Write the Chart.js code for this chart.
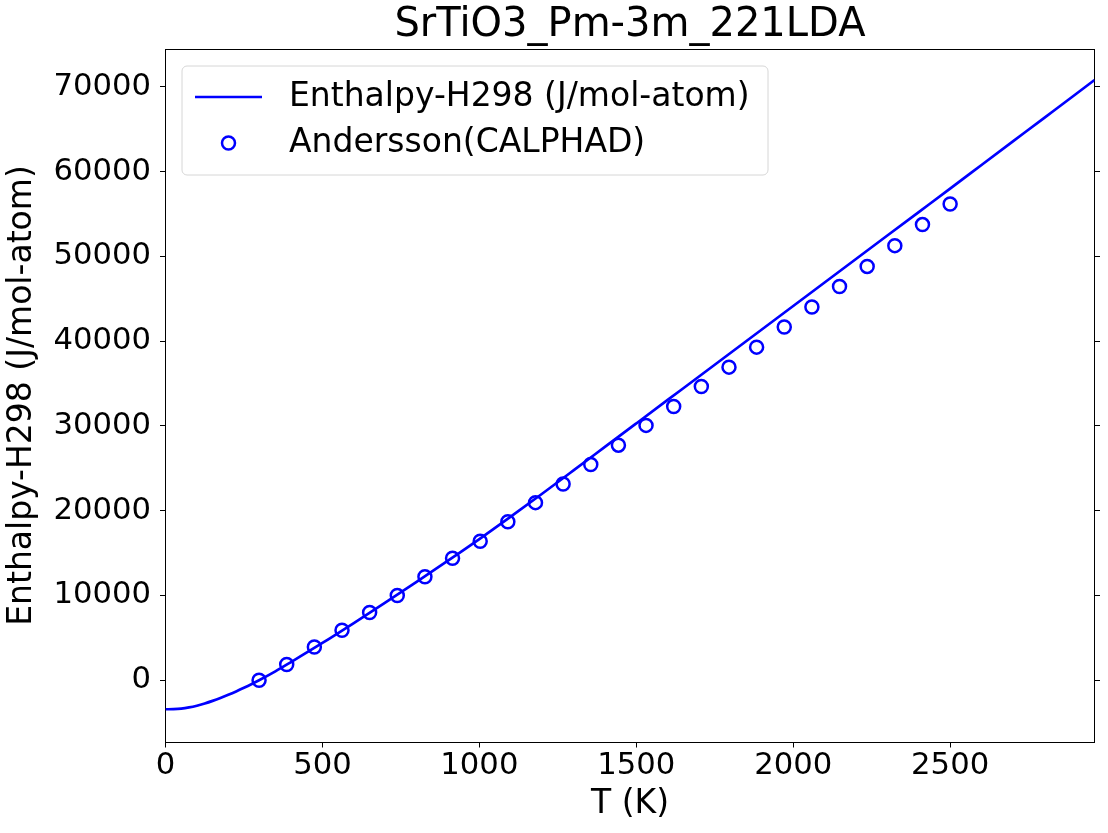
<!DOCTYPE html>
<html>
<head>
<meta charset="utf-8">
<script src="https://cdn.jsdelivr.net/npm/chart.js@4.4.0/dist/chart.umd.min.js"></script>
<style>
html,body{margin:0;padding:0;background:#ffffff;}
#wrap{width:1108px;height:833px;}
</style>
</head>
<body>
<div id="wrap"><canvas id="c" width="1108" height="833"></canvas></div>
<script>
const chartTitle = 'SrTiO3_Pm-3m_221LDA';
const xLabel = 'T (K)';
const yLabel = 'Enthalpy-H298 (J/mol-atom)';
const lineLabel = 'Enthalpy-H298 (J/mol-atom)';
const pointLabel = 'Andersson(CALPHAD)';

// Computed curve
const lineT = [0, 25, 50, 75, 100, 125, 150, 175, 200, 225, 250, 275, 298.15, 350, 400, 500, 600, 700, 800, 900, 1000,
  1100, 1200, 1300, 1400, 1500, 1600, 1700, 1800, 1900, 2000, 2100, 2200, 2300, 2400, 2500,
  2600, 2700, 2800, 2900, 2960];
const lineH = [-3420, -3405, -3345, -3205, -3000, -2735, -2430, -2090, -1715, -1315, -890, -440, 0, 1050, 2150, 4400, 6750, 9150, 11600, 14100, 16650,
  19300, 22000, 24750, 27520, 30290, 33060, 35830, 38600, 41370, 44140, 46910, 49680, 52450, 55220, 57990,
  60770, 63550, 66330, 69110, 70800];

// CALPHAD points
const pointT = [298.15, 386.2, 474.3, 562.4, 650.4, 738.5, 826.6, 914.6, 1002.7, 1090.8, 1178.9, 1266.9, 1355.0,
  1443.1, 1531.1, 1619.2, 1707.3, 1795.4, 1883.4, 1971.5, 2059.6, 2147.6, 2235.7, 2323.8, 2411.9, 2500];
const pointH = [0, 1850, 3930, 5900, 8000, 10000, 12200, 14400, 16400, 18700, 20950, 23150, 25450,
  27730, 30060, 32280, 34640, 36930, 39290, 41660, 44020, 46450, 48810, 51260, 53740, 56180];

// Tick values
const xTickValues = [0, 500, 1000, 1500, 2000, 2500];
const yTickValues = [0, 10000, 20000, 30000, 40000, 50000, 60000, 70000];

const xMin = 0, xMax = 2960;
const yMin = -7280, yMax = 74450;

const FONT = 'DejaVu Sans';
const BLUE = '#0000ff';

const legendPlugin = {
  id: 'innerLegend',
  afterDraw(chart) {
    const ctx = chart.ctx;
    const ds = chart.data.datasets;
    ctx.save();
    ctx.beginPath();
    ctx.roundRect(182, 66, 586, 109, 5);
    ctx.fillStyle = 'rgba(255,255,255,0.8)';
    ctx.fill();
    ctx.strokeStyle = '#d6d6d6';
    ctx.lineWidth = 1;
    ctx.stroke();
    ctx.beginPath();
    ctx.moveTo(195, 97);
    ctx.lineTo(262, 97);
    ctx.strokeStyle = BLUE;
    ctx.lineWidth = 2.7;
    ctx.stroke();
    ctx.beginPath();
    ctx.arc(228.5, 143, 6.5, 0, Math.PI * 2);
    ctx.lineWidth = 2.5;
    ctx.stroke();
    ctx.fillStyle = '#000';
    ctx.font = '33px "' + FONT + '"';
    ctx.textBaseline = 'middle';
    ctx.textAlign = 'left';
    ctx.fillText(ds[0].label, 289, 97);
    ctx.fillText(ds[1].label, 289, 143);
    ctx.restore();
  }
};

const tickFont = {family: FONT, size: 30.7};
const setTicks = vals => (s => { s.ticks = vals.map(v => ({value: v})); });

new Chart(document.getElementById('c'), {
  type: 'scatter',
  data: {
    datasets: [
      {
        label: lineLabel,
        data: lineT.map((t, i) => ({x: t, y: lineH[i]})),
        showLine: true,
        borderColor: BLUE,
        backgroundColor: BLUE,
        borderWidth: 2.7,
        pointRadius: 0,
        pointHoverRadius: 0,
        fill: false,
        cubicInterpolationMode: 'monotone',
        xAxisID: 'x', yAxisID: 'y'
      },
      {
        label: pointLabel,
        data: pointT.map((t, i) => ({x: t, y: pointH[i]})),
        showLine: false,
        pointStyle: 'circle',
        pointRadius: 6.5,
        pointHoverRadius: 6.5,
        borderWidth: 2.5,
        pointBorderWidth: 2.5,
        borderColor: BLUE,
        backgroundColor: 'rgba(0,0,0,0)',
        xAxisID: 'x', yAxisID: 'y'
      }
    ]
  },
  options: {
    responsive: false,
    animation: false,
    devicePixelRatio: 1,
    layout: {padding: 0},
    events: [],
    plugins: {
      legend: {display: false},
      title: {display: false},
      tooltip: {enabled: false}
    },
    scales: {
      x: {
        type: 'linear', position: 'bottom', min: xMin, max: xMax,
        afterBuildTicks: setTicks(xTickValues),
        afterFit(s) { s.height = 91; },
        ticks: {font: tickFont, color: '#000', padding: 0, maxRotation: 0, autoSkip: false,
          callback: v => String(v)},
        grid: {display: true, drawOnChartArea: false, drawTicks: true, tickLength: 5.5, tickColor: '#000', tickWidth: 1},
        border: {display: true, color: '#000', width: 1},
        title: {display: true, text: xLabel, font: {family: FONT, size: 33}, color: '#000', padding: {top: 0, bottom: 9}}
      },
      x2: {
        type: 'linear', position: 'top', min: xMin, max: xMax,
        afterBuildTicks: setTicks(xTickValues),
        afterFit(s) { s.height = 49; },
        ticks: {display: false},
        grid: {display: true, drawOnChartArea: false, drawTicks: false},
        border: {display: true, color: '#000', width: 1},
        title: {display: true, text: chartTitle, font: {family: FONT, size: 40}, color: '#000', padding: {top: 2, bottom: 0}}
      },
      y: {
        type: 'linear', position: 'left', min: yMin, max: yMax,
        afterBuildTicks: setTicks(yTickValues),
        afterFit(s) { s.width = 165.5; },
        ticks: {font: tickFont, color: '#000', padding: 9, autoSkip: false,
          callback: v => String(v)},
        grid: {display: true, drawOnChartArea: false, drawTicks: true, tickLength: 5.5, tickColor: '#000', tickWidth: 1},
        border: {display: true, color: '#000', width: 1},
        title: {display: true, text: yLabel, font: {family: FONT, size: 33}, color: '#000', padding: {top: 3, bottom: 0}}
      },
      y2: {
        type: 'linear', position: 'right', min: yMin, max: yMax,
        afterBuildTicks: setTicks(yTickValues),
        afterFit(s) { s.width = 13.5; },
        ticks: {display: false},
        grid: {display: true, drawOnChartArea: false, drawTicks: true, tickLength: 5.5, tickColor: '#000', tickWidth: 1},
        border: {display: true, color: '#000', width: 1}
      }
    }
  },
  plugins: [legendPlugin]
});
</script>
</body>
</html>
